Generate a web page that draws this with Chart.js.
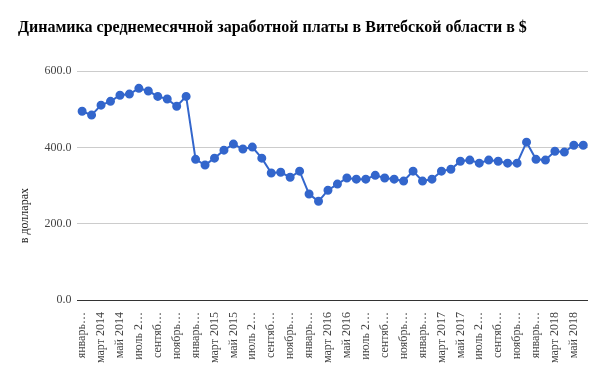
<!DOCTYPE html>
<html>
<head>
<meta charset="utf-8">
<script src="https://cdn.jsdelivr.net/npm/chart.js@4"></script>
<style>
  body { margin: 0; background: #fff; }
  #wrap { width: 600px; height: 371px; }
</style>
</head>
<body>
<div id="wrap"><canvas id="chart"></canvas></div>
<script>
// месяцы янв 2014 - июн 2018
const months = ["январь", "февраль", "март", "апрель", "май", "июнь", "июль", "август", "сентябрь", "октябрь", "ноябрь", "декабрь"];
const years = [2014, 2015, 2016, 2017, 2018];
const salary = [
  495, 485, 511, 521, 537, 540, 555, 548, 534, 527, 508, 534,
  369, 354, 372, 393, 409, 396, 401, 372, 333, 335, 322, 338,
  278, 259, 288, 304, 320, 317, 317, 327, 320, 317, 312, 338,
  312, 317, 338, 343, 364, 367, 359, 367, 364, 359, 359, 414,
  369, 367, 390, 388, 406, 406
];

let labels = [];
for (let i = 0; i < salary.length; i++) {
  labels.push(months[i % 12] + " " + years[Math.floor(i / 12)]);
}

// подписи оси X как на картинке (обрезанные), через одну
function tickText(i) {
  if (i % 2 !== 0) return null;
  let m = i % 12;
  let y = years[Math.floor(i / 12)];
  if (m === 0) return "январь…";
  if (m === 2) return "март " + y;
  if (m === 4) return "май " + y;
  if (m === 6) return "июль 2…";
  if (m === 8) return "сентяб…";
  return "ноябрь…";
}

const ctx = document.getElementById("chart");
new Chart(ctx, {
  type: "line",
  data: {
    labels: labels,
    datasets: [{
      label: "в долларах",
      data: salary,
      borderColor: "#3366cc",
      backgroundColor: "#3366cc",
      borderWidth: 2,
      pointRadius: 3.5,
      pointHoverRadius: 4,
      tension: 0
    }]
  },
  options: {
    responsive: true,
    maintainAspectRatio: false,
    animation: false,
    layout: { padding: { left: 18, right: 12, top: 8, bottom: 4 } },
    plugins: {
      legend: { display: false },
      tooltip: { enabled: false },
      title: {
        display: true,
        text: "Динамика среднемесячной заработной платы в Витебской области в $",
        align: "start",
        color: "#000",
        font: { family: "Liberation Serif", size: 16, weight: "bold" },
        padding: { top: 10, bottom: 34 }
      }
    },
    scales: {
      x: {
        offset: true,
        grid: { display: false },
        border: { display: false },
        ticks: {
          autoSkip: false,
          maxRotation: 90,
          minRotation: 90,
          color: "#444",
          padding: 4,
          font: { family: "Liberation Serif", size: 12 },
          callback: function (val, index) { return tickText(index); }
        }
      },
      y: {
        min: 0,
        max: 600,
        grid: {
          color: (c) => c.tick && c.tick.value === 0 ? "#333" : "#ccc",
          drawTicks: false
        },
        border: { display: false },
        ticks: {
          stepSize: 200,
          color: "#444",
          padding: 6,
          font: { family: "Liberation Serif", size: 12 },
          callback: (v) => v.toFixed(1)
        },
        title: {
          display: true,
          text: "в долларах" + "\u00a0".repeat(20),
          color: "#222",
          font: { family: "Liberation Serif", size: 12 },
          padding: { top: 0, bottom: 6 }
        }
      }
    }
  }
});
</script>
</body>
</html>
